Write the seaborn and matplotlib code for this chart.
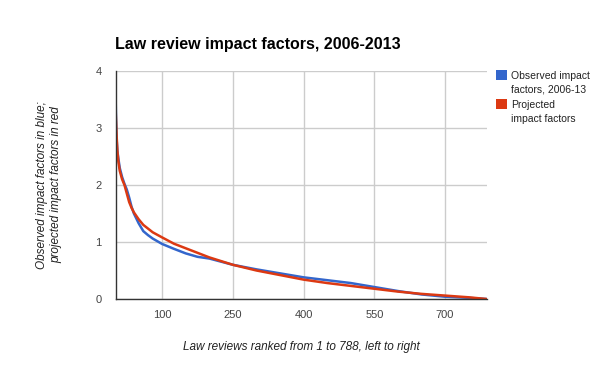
import matplotlib
matplotlib.use("Agg")
import matplotlib.pyplot as plt
import seaborn as sns
import pandas as pd
from matplotlib.patches import Rectangle

# Observed impact factors (rank, value)
obs_rank = [1, 2, 3, 5, 7, 10, 15, 20, 25, 30, 35, 40, 50, 60, 70, 80, 100, 125,
            150, 175, 200, 250, 300, 350, 400, 450, 500, 550, 600, 650, 700, 750, 788]
obs_val = [3.67, 3.20, 2.85, 2.60, 2.47, 2.30, 2.14, 2.02, 1.92, 1.78, 1.62, 1.50,
           1.33, 1.19, 1.12, 1.06, 0.965, 0.88, 0.80, 0.74, 0.71, 0.60, 0.52, 0.45,
           0.38, 0.33, 0.28, 0.21, 0.14, 0.08, 0.04, 0.02, 0.0]

# Projected impact factors
proj_rank = [1, 2, 3, 5, 7, 10, 15, 20, 30, 35, 40, 50, 60, 80, 100, 125, 150, 200,
             250, 300, 350, 400, 450, 500, 550, 600, 650, 700, 750, 788]
proj_val = [3.40, 3.15, 2.93, 2.60, 2.42, 2.25, 2.10, 2.00, 1.70, 1.60, 1.52, 1.40,
            1.30, 1.17, 1.08, 0.97, 0.89, 0.73, 0.60, 0.50, 0.42, 0.34, 0.28, 0.23,
            0.18, 0.13, 0.09, 0.06, 0.03, 0.0]

x_ticks = [100, 250, 400, 550, 700]
y_ticks = [0, 1, 2, 3, 4]
series_names = ["Observed impact\nfactors, 2006-13", "Projected\nimpact factors"]
colors = ["#3366CC", "#DC3912"]

df = pd.concat([
    pd.DataFrame({"rank": obs_rank, "value": obs_val, "series": series_names[0]}),
    pd.DataFrame({"rank": proj_rank, "value": proj_val, "series": series_names[1]}),
])

sns.set_theme(style="white")
plt.rcParams["font.family"] = ["Liberation Sans", "DejaVu Sans"]

fig = plt.figure(figsize=(6, 3.71), dpi=100)
ax = fig.add_axes([115.5 / 600, 1 - 299 / 371, 371 / 600, 228 / 371])

sns.lineplot(data=df, x="rank", y="value", hue="series", palette=colors,
             linewidth=1.8, legend=False, ax=ax, sort=False)

ax.set_xlim(1, 788)
ax.set_ylim(0, 4)
ax.set_xticks(x_ticks)
ax.set_yticks(y_ticks)
ax.set_xticklabels([str(t) for t in x_ticks])
ax.grid(True, color="#cccccc", linewidth=1)
ax.set_axisbelow(True)
for s in ["top", "right"]:
    ax.spines[s].set_visible(False)
for s in ["left", "bottom"]:
    ax.spines[s].set_color("#333333")
    ax.spines[s].set_linewidth(1)
    ax.spines[s].set_zorder(5)
ax.tick_params(axis="both", length=0, labelsize=8, labelcolor="#444444")
ax.tick_params(axis="x", pad=8)
ax.tick_params(axis="y", pad=10)

ax.set_xlabel("Law reviews ranked from 1 to 788, left to right", fontsize=8.5,
              style="italic", color="#222222", labelpad=15)
ax.set_ylabel("Observed impact factors in blue;\nprojected impact factors in red",
              fontsize=8.5, style="italic", color="#222222", labelpad=24)

fig.text(115 / 600, 1 - 45 / 371, "Law review impact factors, 2006-2013",
         fontsize=11.5, fontweight="bold", ha="left", va="center", color="#000000")

# legend
leg_y = [75, 104]
for name, c, y in zip(series_names, colors, leg_y):
    fig.patches.append(Rectangle((496 / 600, 1 - (y + 5) / 371), 11 / 600, 10 / 371,
                                 transform=fig.transFigure, facecolor=c, edgecolor="none"))
    fig.text(511 / 600, 1 - (y - 4) / 371, name, fontsize=7.5, ha="left", va="top",
             color="#222222", linespacing=1.45)

fig.savefig("out.png", dpi=100)
